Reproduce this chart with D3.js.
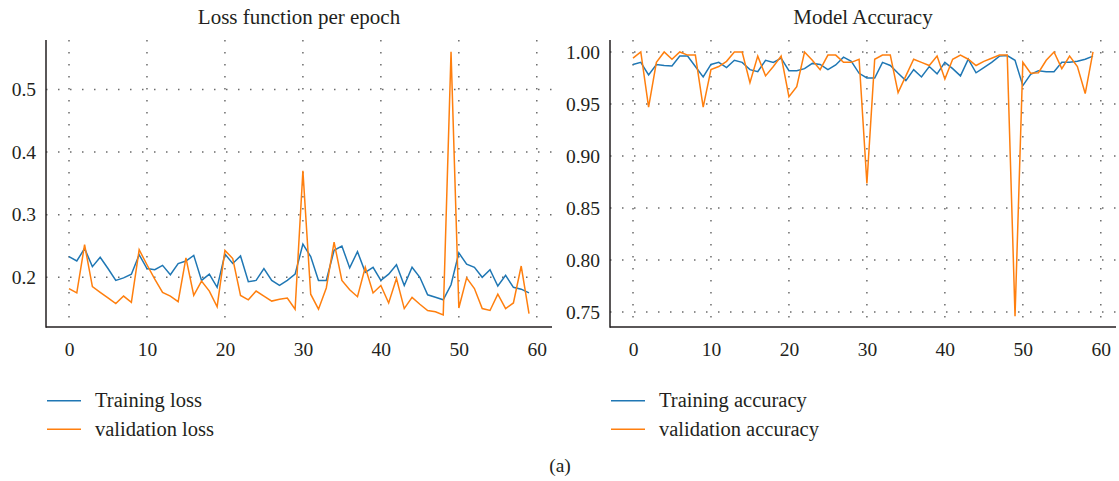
<!DOCTYPE html>
<html>
<head>
<meta charset="utf-8">
<script src="https://cdn.jsdelivr.net/npm/d3@7/dist/d3.min.js"></script>
<style>
  html, body { margin: 0; padding: 0; background: #fff; }
  svg { display: block; }
  text { font-family: "Liberation Serif", "Times New Roman", serif; fill: #231f20; }
</style>
</head>
<body>
<svg id="chart" width="1119" height="481"></svg>
<script>
// Epochs 0..59
const epochs = d3.range(60);

const trainLoss = [0.233,0.226,0.246,0.217,0.232,0.214,0.195,0.199,0.205,0.236,
  0.214,0.212,0.219,0.204,0.222,0.226,0.235,0.195,0.205,0.184,
  0.237,0.222,0.234,0.193,0.195,0.214,0.195,0.187,0.195,0.205,
  0.253,0.233,0.195,0.195,0.243,0.250,0.215,0.241,0.208,0.216,
  0.195,0.205,0.220,0.187,0.216,0.200,0.172,0.168,0.164,0.188,
  0.239,0.221,0.216,0.200,0.212,0.186,0.203,0.184,0.181,0.175];

const valLoss = [0.182,0.175,0.252,0.185,0.176,0.167,0.158,0.170,0.160,0.244,
  0.220,0.197,0.176,0.170,0.161,0.231,0.171,0.194,0.178,0.153,
  0.243,0.230,0.171,0.164,0.178,0.170,0.162,0.165,0.167,0.149,
  0.370,0.173,0.149,0.183,0.256,0.195,0.180,0.169,0.216,0.175,
  0.187,0.159,0.198,0.150,0.168,0.157,0.147,0.145,0.140,0.560,
  0.151,0.199,0.182,0.150,0.147,0.173,0.150,0.159,0.218,0.142];

const trainAcc = [0.988,0.990,0.978,0.988,0.987,0.9865,0.996,0.996,0.986,0.976,
  0.988,0.990,0.985,0.992,0.990,0.983,0.981,0.992,0.990,0.994,
  0.982,0.982,0.984,0.989,0.988,0.983,0.9875,0.995,0.991,0.9795,
  0.975,0.975,0.990,0.987,0.9795,0.9725,0.983,0.976,0.986,0.979,
  0.990,0.984,0.977,0.993,0.980,0.985,0.990,0.996,0.9965,0.992,
  0.9676,0.9785,0.982,0.981,0.981,0.990,0.990,0.991,0.993,0.996];

const valAcc = [0.994,1.000,0.947,0.990,1.000,0.993,1.000,0.997,0.997,0.947,
  0.983,0.986,0.991,1.000,1.000,0.9705,0.996,0.977,0.986,0.996,
  0.957,0.9667,1.000,0.992,0.983,0.997,0.997,0.990,0.990,0.993,
  0.8737,0.993,0.997,0.997,0.961,0.977,0.993,0.990,0.987,0.996,
  0.974,0.993,0.997,0.993,0.987,0.991,0.994,0.997,0.997,0.746,
  0.990,0.9795,0.980,0.992,1.000,0.984,0.996,0.986,0.960,1.000];

const epochTicks = [0, 10, 20, 30, 40, 50, 60];
const lossTicks = [0.2, 0.3, 0.4, 0.5];
const accTicks = [0.75, 0.80, 0.85, 0.90, 0.95, 1.00];

const BLUE = "#1f77b4";
const ORANGE = "#ff7f0e";
const SERIF = "'Liberation Serif', 'Times New Roman', serif";

const svg = d3.select("#chart");

function panel(opts) {
  const { left, right, top, bottom, yDomain, yTicks, yFormat, title,
          series, labels } = opts;
  const g = svg.append("g");

  const x = d3.scaleLinear().domain([-2.95, 61.95]).range([left, right]);
  const y = d3.scaleLinear().domain(yDomain).range([bottom, top]);

  // dotted grid
  const grid = g.append("g")
    .attr("stroke", "#6b6b6b")
    .attr("stroke-width", 1.5)
    .attr("stroke-dasharray", "1.5,10.5")
    .attr("fill", "none");
  grid.selectAll("line.v").data(epochTicks).join("line")
    .attr("class", "v")
    .attr("x1", d => x(d)).attr("x2", d => x(d))
    .attr("y1", top).attr("y2", bottom);
  grid.selectAll("line.h").data(yTicks).join("line")
    .attr("class", "h")
    .attr("x1", left).attr("x2", right)
    .attr("y1", d => y(d)).attr("y2", d => y(d));

  // series lines
  const line = d3.line().x((d, i) => x(epochs[i])).y(d => y(d));
  series.forEach(s => {
    g.append("path")
      .datum(s.values)
      .attr("fill", "none")
      .attr("stroke", s.color)
      .attr("stroke-width", 1.5)
      .attr("stroke-linejoin", "miter")
      .attr("d", line);
  });

  // axes (labels only, no tick marks)
  const xAxis = d3.axisBottom(x).tickValues(epochTicks).tickSize(0).tickPadding(15)
    .tickFormat(d3.format("d"));
  const yAxis = d3.axisLeft(y).tickValues(yTicks).tickSize(0).tickPadding(10)
    .tickFormat(d3.format(yFormat));

  const gx = g.append("g").attr("transform", `translate(0,${bottom})`).call(xAxis);
  const gy = g.append("g").attr("transform", `translate(${left},0)`).call(yAxis);
  [gx, gy].forEach(a => {
    a.attr("font-family", null).attr("font-size", null);
    a.select(".domain").remove();
    a.selectAll("text")
      .style("font-family", SERIF)
      .style("font-size", "19.5px")
      .style("fill", "#231f20");
  });

  // spines
  g.append("line")
    .attr("x1", left).attr("x2", left).attr("y1", top).attr("y2", bottom + 0.75)
    .attr("stroke", "#231f20").attr("stroke-width", 1.5);
  g.append("line")
    .attr("x1", left).attr("x2", right).attr("y1", bottom).attr("y2", bottom)
    .attr("stroke", "#231f20").attr("stroke-width", 1.5);

  // title
  g.append("text")
    .attr("x", (left + right) / 2)
    .attr("y", 24)
    .attr("text-anchor", "middle")
    .style("font-size", "21px")
    .text(title);

  // legend
  const lg = g.append("g");
  series.forEach((s, i) => {
    const ly = 400.7 + i * 28.6;
    lg.append("line")
      .attr("x1", left + 1).attr("x2", left + 35)
      .attr("y1", ly).attr("y2", ly)
      .attr("stroke", s.color).attr("stroke-width", 1.5);
    lg.append("text")
      .attr("x", left + 49)
      .attr("y", ly + 6.5)
      .style("font-size", "20.5px")
      .text(labels[i]);
  });
}

panel({
  left: 46, right: 552, top: 40, bottom: 327,
  yDomain: [0.1206, 0.579], yTicks: lossTicks, yFormat: ".1f",
  title: "Loss function per epoch",
  series: [{ values: trainLoss, color: BLUE }, { values: valLoss, color: ORANGE }],
  labels: ["Training loss", "validation loss"]
});

panel({
  left: 610, right: 1116, top: 40, bottom: 327,
  yDomain: [0.7356, 1.0115], yTicks: accTicks, yFormat: ".2f",
  title: "Model Accuracy",
  series: [{ values: trainAcc, color: BLUE }, { values: valAcc, color: ORANGE }],
  labels: ["Training accuracy", "validation accuracy"]
});

// figure caption
svg.append("text")
  .attr("x", 560)
  .attr("y", 472)
  .attr("text-anchor", "middle")
  .style("font-size", "19.5px")
  .text("(a)");
</script>
</body>
</html>
